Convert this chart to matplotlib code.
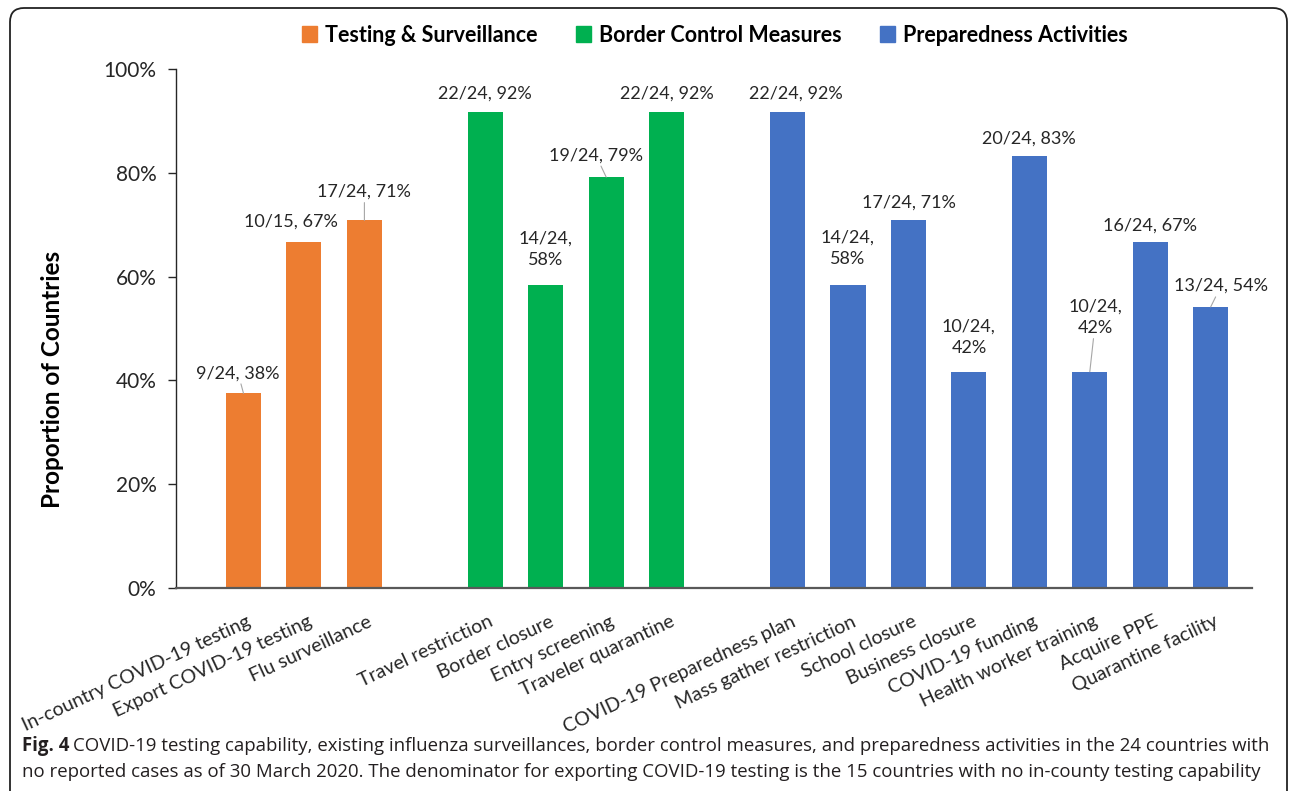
import matplotlib
matplotlib.use('Agg')
import matplotlib.pyplot as plt
import matplotlib.transforms as mtransforms
from matplotlib.patches import FancyBboxPatch, Patch

# data
categories = ['In-country COVID-19 testing', 'Export COVID-19 testing', 'Flu surveillance',
              'Travel restriction', 'Border closure', 'Entry screening', 'Traveler quarantine',
              'COVID-19 Preparedness plan', 'Mass gather restriction', 'School closure',
              'Business closure', 'COVID-19 funding', 'Health worker training',
              'Acquire PPE', 'Quarantine facility']
group_names = ['Testing & Surveillance', 'Border Control Measures', 'Preparedness Activities']
group_of = [0, 0, 0, 1, 1, 1, 1, 2, 2, 2, 2, 2, 2, 2, 2]
numerators = [9, 10, 17, 22, 14, 19, 22, 22, 14, 17, 10, 20, 10, 16, 13]
denominators = [24, 15, 24, 24, 24, 24, 24, 24, 24, 24, 24, 24, 24, 24, 24]
two_line = [False, False, False, False, True, False, False, False, True, False, True, False, True, False, False]

colors = ['#ED7D31', '#00B050', '#4472C4']

# label placement relative to bar top: (dx in slots, dy in % points, leader line)
label_offsets = [(-0.09, 3.9, True), (-0.21, 4.0, False), (0, 5.5, True), (0, 3.5, False),
                 (0, 6.9, False), (-0.17, 4.2, True), (0, 3.5, False), (0.13, 3.5, False),
                 (0, 7.1, False), (0, 3.4, False), (0, 6.7, False), (0, 3.2, False),
                 (0.1, 10.5, True), (0, 3.2, False), (0.17, 4.0, True)]

plt.rcParams['font.family'] = ['Lato', 'DejaVu Sans']

W, H = 1292, 791
fig = plt.figure(figsize=(W / 100, H / 100), dpi=100)
ax = fig.add_axes([176 / W, 1 - 588 / H, (1252 - 176) / W, (588 - 69) / H])

positions = [i + g for i, g in enumerate(group_of)]
pcts = [n / d * 100 for n, d in zip(numerators, denominators)]

ax.bar(positions, pcts, width=0.58, color=[colors[g] for g in group_of], zorder=2)

for x, p, n, d, tl, (dx, dy, leader) in zip(positions, pcts, numerators, denominators, two_line, label_offsets):
    sep = ',\n' if tl else ', '
    txt = f"{n}/{d}{sep}{int(p + 0.5)}%"
    if leader:
        ax.annotate(txt, xy=(x, p), xytext=(x + dx, p + dy), ha='center', va='center',
                    fontsize=13, color='#262626', linespacing=1.4,
                    arrowprops=dict(arrowstyle='-', color='#a6a6a6', lw=0.8, shrinkA=0, shrinkB=0))
    else:
        ax.text(x + dx, p + dy, txt, ha='center', va='center', fontsize=13,
                color='#262626', linespacing=1.4)

ax.set_xlim((176 - 243.5) / 60.45, (1252 - 243.5) / 60.45)
ax.set_ylim(0, 100)
ax.set_yticks(range(0, 101, 20))
ax.set_yticklabels([f"{v}%" for v in range(0, 101, 20)], fontsize=15, color='#262626')
ax.tick_params(axis='y', length=6, width=1, color='#262626', pad=8)

ax.set_xticks(positions)
ax.set_xticklabels(categories, rotation=25, ha='right', rotation_mode='anchor',
                   fontsize=14, color='#262626')
ax.tick_params(axis='x', length=0, pad=18)
shift = mtransforms.ScaledTranslation(3 / 100, 0, fig.dpi_scale_trans)
for lab in ax.get_xticklabels():
    lab.set_transform(lab.get_transform() + shift)

for s in ['top', 'right']:
    ax.spines[s].set_visible(False)
ax.spines['left'].set_color('#262626')
ax.spines['left'].set_linewidth(1)
ax.spines['bottom'].set_color('#595959')
ax.spines['bottom'].set_linewidth(1.6)

handles = [Patch(color=c, label=l) for c, l in zip(colors, group_names)]
fig.legend(handles=handles, loc='center', bbox_to_anchor=(715 / W, 1 - 35 / H), ncol=3,
           frameon=False, handlelength=0.7, handleheight=0.7, handletextpad=0.35,
           columnspacing=1.8, prop={'weight': 'bold', 'size': 15.5})

fig.text(53 / W, 1 - 379 / H, 'Proportion of Countries', rotation=90, ha='center', va='center',
         fontsize=17.5, fontweight='bold', color='black')

# caption
cap_font = ['Open Sans', 'DejaVu Sans']
cap_size = 13.45
t1 = fig.text(22 / W, 1 - 746 / H, 'Fig. 4', fontsize=cap_size, fontweight='bold',
              family=cap_font, va='center', color='#231f20')
fig.canvas.draw()
bb = t1.get_window_extent()
fig.text((bb.x1 + 4) / W, 1 - 746 / H,
         'COVID-19 testing capability, existing influenza surveillances, border control measures, '
         'and preparedness activities in the 24 countries with',
         fontsize=cap_size, family=cap_font, va='center', color='#231f20')
fig.text(22 / W, 1 - 772 / H,
         'no reported cases as of 30 March 2020. The denominator for exporting COVID-19 testing '
         'is the 15 countries with no in-county testing capability',
         fontsize=cap_size, family=cap_font, va='center', color='#231f20')

border = FancyBboxPatch((10, -30), 1277, 783 + 30, boxstyle='round,pad=0,rounding_size=14',
                        transform=mtransforms.IdentityTransform(), fill=False,
                        edgecolor='#222222', lw=1.3)
fig.add_artist(border)

fig.savefig('out.png', dpi=100)
